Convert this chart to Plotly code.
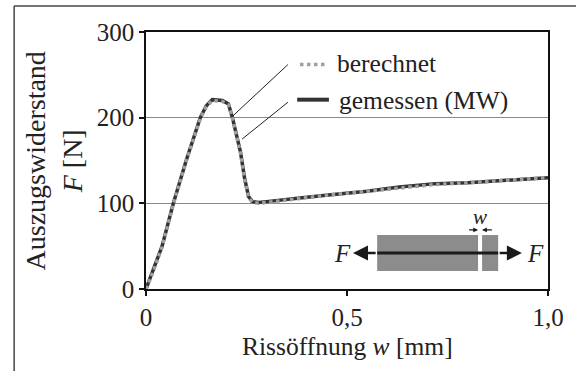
import plotly.graph_objects as go

# Crack opening w [mm] and pull-out resistance F [N]
w_gemessen = [0, 0.02, 0.04, 0.068, 0.10, 0.135, 0.15, 0.165, 0.19, 0.205, 0.215,
              0.225, 0.235, 0.245, 0.255, 0.265, 0.28, 0.30, 0.35, 0.40, 0.46,
              0.55, 0.63, 0.68, 0.72, 0.80, 0.90, 1.0]
F_gemessen = [0, 24, 50, 100, 150, 200, 214, 221, 220, 216, 200,
              180, 160, 130, 108, 102, 101, 102, 105, 107, 110,
              114, 119, 121, 123, 124, 127, 130]

w_berechnet = [0, 0.02, 0.04, 0.068, 0.10, 0.135, 0.15, 0.165, 0.19, 0.205, 0.215,
               0.225, 0.235, 0.245, 0.255, 0.265, 0.28, 0.30, 0.35, 0.40, 0.46,
               0.55, 0.63, 0.68, 0.72, 0.80, 0.90, 1.0]
F_berechnet = [0, 23, 49, 99, 149, 199, 213, 220, 219, 215, 199,
               179, 159, 129, 107, 101, 100, 101, 104, 107, 110,
               114, 118, 120, 122, 124, 127, 130]

x_ticks = [0, 0.5, 1.0]
x_tick_labels = ["0", "0,5", "1,0"]
y_ticks = [0, 100, 200, 300]
y_tick_labels = ["0", "100", "200", "300"]

serif = "Liberation Serif"
dark = "#333333"
light = "#a0a0a0"
ink = "#222222"

fig = go.Figure()
fig.add_trace(go.Scatter(x=w_gemessen, y=F_gemessen, mode="lines", name="gemessen (MW)",
                         line=dict(color=dark, width=3.5), showlegend=False))
fig.add_trace(go.Scatter(x=w_berechnet, y=F_berechnet, mode="lines", name="berechnet",
                         line=dict(color=light, width=3.5, dash="dot"), showlegend=False))

shapes = []
# outer frame
shapes.append(dict(type="line", xref="paper", yref="paper", x0=-0.328, x1=-0.328,
                   y0=1.101, y1=-0.4, line=dict(color="#444", width=1.5)))
shapes.append(dict(type="line", xref="paper", yref="paper", x0=-0.328, x1=1.2,
                   y0=1.101, y1=1.101, line=dict(color="#444", width=1.5)))
# legend samples
shapes.append(dict(type="line", x0=0.383, x1=0.445, y0=262, y1=262,
                   line=dict(color=light, width=3.5, dash="dot")))
shapes.append(dict(type="line", x0=0.376, x1=0.455, y0=221, y1=221,
                   line=dict(color=dark, width=4)))
# leader lines from the legend to the curves
shapes.append(dict(type="line", x0=0.353, y0=262, x1=0.216, y1=202,
                   line=dict(color=ink, width=1)))
shapes.append(dict(type="line", x0=0.353, y0=218, x1=0.239, y1=175,
                   line=dict(color=ink, width=1)))
# specimen sketch: two blocks with a crack and a fibre
shapes.append(dict(type="rect", x0=0.575, x1=0.826, y0=21, y1=63,
                   fillcolor="#8c8c8c", line=dict(width=0)))
shapes.append(dict(type="rect", x0=0.836, x1=0.876, y0=21, y1=63,
                   fillcolor="#8c8c8c", line=dict(width=0)))
shapes.append(dict(type="line", x0=0.575, x1=0.876, y0=42, y1=42,
                   line=dict(color="#1a1a1a", width=3)))

annotations = []
# y-axis title
annotations.append(dict(xref="paper", yref="paper", x=-0.229, y=0.50,
                        text="Auszugswiderstand<br><i>F</i> [N]", showarrow=False,
                        textangle=-90, xanchor="center", yanchor="middle",
                        font=dict(family=serif, size=28, color=ink)))
# x-axis title
annotations.append(dict(xref="paper", yref="paper", x=0.5, y=-0.225,
                        text="Rissöffnung <i>w</i> [mm]", showarrow=False,
                        xanchor="center", yanchor="middle",
                        font=dict(family=serif, size=25.5, color=ink)))
# legend text
annotations.append(dict(x=0.471, y=263, text="berechnet", showarrow=False,
                        xanchor="left", yanchor="middle",
                        font=dict(family=serif, size=25.5, color=ink)))
annotations.append(dict(x=0.476, y=220, text="gemessen (MW)", showarrow=False,
                        xanchor="left", yanchor="middle",
                        font=dict(family=serif, size=25.5, color=ink)))
# force arrows
annotations.append(dict(x=0.515, y=42, ax=0.575, ay=42, axref="x", ayref="y",
                        showarrow=True, arrowhead=2, arrowsize=1.2, arrowwidth=2.5,
                        arrowcolor="#1a1a1a", text=""))
annotations.append(dict(x=0.935, y=42, ax=0.876, ay=42, axref="x", ayref="y",
                        showarrow=True, arrowhead=2, arrowsize=1.2, arrowwidth=2.5,
                        arrowcolor="#1a1a1a", text=""))
annotations.append(dict(x=0.488, y=42, text="<i>F</i>", showarrow=False,
                        font=dict(family=serif, size=25, color=ink)))
annotations.append(dict(x=0.968, y=42, text="<i>F</i>", showarrow=False,
                        font=dict(family=serif, size=25, color=ink)))
# crack width dimension
annotations.append(dict(x=0.826, y=69, ax=0.800, ay=69, axref="x", ayref="y",
                        showarrow=True, arrowhead=2, arrowsize=0.8, arrowwidth=1.2,
                        arrowcolor="#1a1a1a", text=""))
annotations.append(dict(x=0.836, y=69, ax=0.864, ay=69, axref="x", ayref="y",
                        showarrow=True, arrowhead=2, arrowsize=0.8, arrowwidth=1.2,
                        arrowcolor="#1a1a1a", text=""))
annotations.append(dict(x=0.831, y=84, text="<i>w</i>", showarrow=False,
                        font=dict(family=serif, size=21, color=ink)))

fig.update_layout(
    width=576, height=371,
    margin=dict(l=146, r=28, t=32, b=82),
    paper_bgcolor="white", plot_bgcolor="white",
    shapes=shapes, annotations=annotations,
    font=dict(family=serif, size=25, color=ink),
)
fig.update_xaxes(range=[0, 1], tickvals=x_ticks, ticktext=x_tick_labels,
                 showline=True, linecolor="#111", linewidth=1.5, mirror=True,
                 ticks="outside", ticklen=5, tickwidth=1.5, tickcolor="#111",
                 showgrid=False, zeroline=False,
                 tickfont=dict(family=serif, size=25, color=ink))
fig.update_yaxes(range=[0, 300], tickvals=y_ticks, ticktext=y_tick_labels,
                 showline=True, linecolor="#111", linewidth=1.5, mirror=True,
                 ticks="outside", ticklen=5, tickwidth=1.5, tickcolor="#111",
                 showgrid=True, gridcolor="#8a8a8a", gridwidth=1, zeroline=False,
                 tickfont=dict(family=serif, size=25, color=ink))

fig.write_html("out.html")
